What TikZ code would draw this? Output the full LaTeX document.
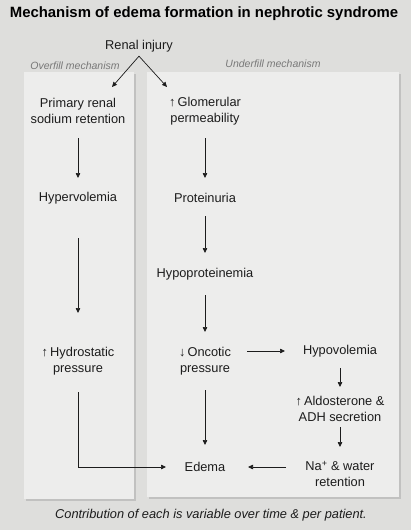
\documentclass[tikz,border=0pt]{standalone}
\usepackage{fontspec}
\setmainfont{Liberation Sans}
\usetikzlibrary{arrows.meta, shadows}
\definecolor{SlideGrey}{RGB}{222,222,220}
\definecolor{PanelGrey}{RGB}{237,237,236}
\definecolor{LabelGrey}{RGB}{120,120,120}
\definecolor{InkBlack}{RGB}{28,28,28}

\begin{document}
\begin{tikzpicture}[
    x=1pt,
    y=-1pt,
    font=\fontsize{12.8}{16}\selectfont,
    stage/.style={align=center, text=InkBlack, inner sep=1pt},
    mech/.style={font=\fontsize{10.5}{12}\selectfont\itshape, text=LabelGrey},
    panel/.style={fill=PanelGrey, drop shadow={shadow xshift=1.5pt, shadow yshift=-2pt, opacity=0.3}},
    flow/.style={draw=InkBlack, line width=0.7pt, -{Triangle[length=5pt, width=4.5pt]}}
]
% slide background
\fill[SlideGrey] (0,0) rectangle (411,530);
\useasboundingbox (0,0) rectangle (411,530);

% panels
\fill[panel] (24,72) rectangle (134,499);
\fill[panel] (147,72) rectangle (399,497);

% title and labels
\node[font=\fontsize{14.9}{17}\selectfont\bfseries] (title) at (204,14) {Mechanism of edema formation in nephrotic syndrome};
\node[mech] (over) at (75,66) {Overfill mechanism};
\node[mech] (under) at (273,64) {Underfill mechanism};
\node[stage, inner sep=4pt] (ri) at (139,46) {Renal injury};

% overfill column
\node[stage] (prim)  at (78,111) {Primary renal\\sodium retention};
\node[stage] (hyper) at (78,198) {Hypervolemia};
\node[stage] (hydro) at (78,361) {↑\,Hydrostatic\\pressure};

% underfill column
\node[stage] (glom)  at (205,111) {↑\,Glomerular\\permeability};
\node[stage] (prot)  at (205,198) {Proteinuria};
\node[stage] (hypop) at (205,274) {Hypoproteinemia};
\node[stage] (onc)   at (205,361) {↓\,Oncotic\\pressure};
\node[stage] (edema) at (205,467) {Edema};

% right column
\node[stage] (hypov) at (340,351) {Hypovolemia};
\node[stage] (aldo)  at (340,409) {↑\,Aldosterone \&\\ADH secretion};
\node[stage] (na)    at (340,474) {Na\textsuperscript{+} \& water\\retention};

% split from renal injury
\coordinate (tipL) at (112,87);
\coordinate (tipR) at (167,87);
\draw[flow] (ri.south) -- (tipL);
\draw[flow] (ri.south) -- (tipR);

% vertical steps
\foreach \a/\b/\s/\t in {prim/hyper/27/20, hyper/hydro/40/48,
                         glom/prot/27/20, prot/hypop/18/21,
                         hypop/onc/21/29, onc/edema/29/22,
                         hypov/aldo/17/22, aldo/na/18/27}{
  \draw[flow, shorten <=\s pt, shorten >=\t pt] (\a.center) -- (\b.center);
}

% horizontal links
\draw[flow, shorten <=42pt, shorten >=55pt] (onc.center |- hypov.center) -- (hypov.center);
\draw[flow, shorten <=54pt, shorten >=43pt] (na.center |- edema.center) -- (edema.center);
\draw[flow, shorten <=31pt, shorten >=39pt] (hydro.center) |- (edema.center);

% caption
\node[font=\fontsize{12.8}{14}\selectfont\itshape, text=InkBlack] (note) at (211,515) {Contribution of each is variable over time \& per patient.};

\end{tikzpicture}
\end{document}
